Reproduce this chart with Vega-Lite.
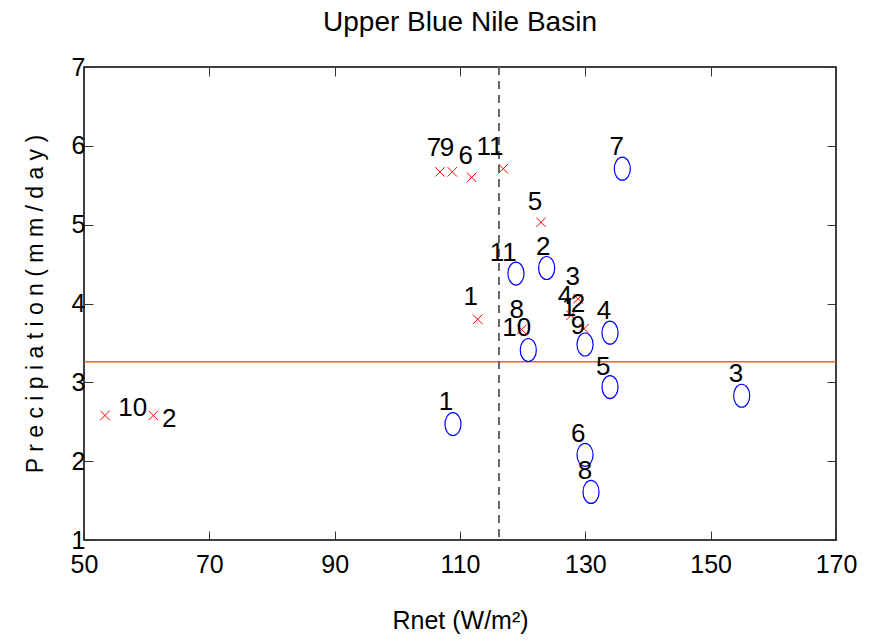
{
  "$schema": "https://vega.github.io/schema/vega-lite/v6.json",
  "width": 752,
  "height": 473,
  "autosize": {"type": "none"},
  "padding": {"left": 84, "top": 67, "right": 33, "bottom": 101},
  "background": "white",
  "title": {"text": "Upper Blue Nile Basin", "font": "Liberation Sans", "fontSize": 28, "fontWeight": "normal", "color": "#000", "offset": 18},
  "config": {
    "view": {"stroke": "#000", "strokeWidth": 1.5},
    "axis": {"domain": false, "grid": false, "labelFlush": false, "labelFont": "Liberation Sans", "labelFontSize": 25, "labelColor": "#000", "tickColor": "#333", "tickSize": -9, "tickWidth": 1, "titleFont": "Liberation Sans", "titleFontSize": 25, "titleFontWeight": "normal", "titleColor": "#000"}
  },
  "datasets": {
    "red": [
      {"rnet": 106.8, "precip": 5.67}, {"rnet": 108.77, "precip": 5.67}, {"rnet": 111.86, "precip": 5.6},
      {"rnet": 116.9, "precip": 5.71}, {"rnet": 122.92, "precip": 5.03}, {"rnet": 112.82, "precip": 3.8},
      {"rnet": 119.84, "precip": 3.67}, {"rnet": 128.83, "precip": 4.06}, {"rnet": 127.71, "precip": 3.85},
      {"rnet": 129.79, "precip": 3.68}, {"rnet": 53.35, "precip": 2.58}, {"rnet": 61.06, "precip": 2.58}
    ],
    "blue": [
      {"rnet": 108.88, "precip": 2.47}, {"rnet": 123.83, "precip": 4.45}, {"rnet": 154.95, "precip": 2.83},
      {"rnet": 133.94, "precip": 3.63}, {"rnet": 133.94, "precip": 2.94}, {"rnet": 129.95, "precip": 2.08},
      {"rnet": 135.9, "precip": 5.71}, {"rnet": 130.91, "precip": 1.61}, {"rnet": 129.95, "precip": 3.48},
      {"rnet": 120.9, "precip": 3.41}, {"rnet": 118.93, "precip": 4.38}
    ],
    "labels": [
      {"rnet": 105.85, "precip": 5.97, "t": "7"}, {"rnet": 107.93, "precip": 5.97, "t": "9"},
      {"rnet": 110.91, "precip": 5.87, "t": "6"}, {"rnet": 114.79, "precip": 5.99, "t": "11"},
      {"rnet": 121.97, "precip": 5.29, "t": "5"}, {"rnet": 135.0, "precip": 5.99, "t": "7"},
      {"rnet": 111.71, "precip": 4.08, "t": "1"}, {"rnet": 116.91, "precip": 4.64, "t": "11"},
      {"rnet": 123.29, "precip": 4.72, "t": "2"}, {"rnet": 119.05, "precip": 3.92, "t": "8"},
      {"rnet": 119.05, "precip": 3.69, "t": "10"}, {"rnet": 127.98, "precip": 4.33, "t": "3"},
      {"rnet": 126.75, "precip": 4.1, "t": "4"}, {"rnet": 127.39, "precip": 3.94, "t": "1"},
      {"rnet": 128.83, "precip": 3.99, "t": "2"}, {"rnet": 128.83, "precip": 3.71, "t": "9"},
      {"rnet": 132.98, "precip": 3.9, "t": "4"}, {"rnet": 132.87, "precip": 3.2, "t": "5"},
      {"rnet": 154.04, "precip": 3.11, "t": "3"}, {"rnet": 128.88, "precip": 2.35, "t": "6"},
      {"rnet": 129.95, "precip": 1.87, "t": "8"}, {"rnet": 107.77, "precip": 2.75, "t": "1"},
      {"rnet": 57.77, "precip": 2.67, "t": "10"}, {"rnet": 63.61, "precip": 2.54, "t": "2"}
    ],
    "hline": [{"precip": 3.26}],
    "vline": [{"rnet": 116.22}]
  },
  "resolve": {"axis": {"x": "independent", "y": "independent"}},
  "layer": [
    {
      "data": {"name": "hline"},
      "mark": {"type": "rule", "color": "#e8603c", "strokeWidth": 1.5},
      "encoding": {
        "y": {"field": "precip", "type": "quantitative", "scale": {"domain": [1, 7], "nice": false, "zero": false}, "axis": null}
      }
    },
    {
      "data": {"name": "vline"},
      "mark": {"type": "rule", "color": "#666666", "strokeWidth": 2, "strokeDash": [8, 6]},
      "encoding": {
        "x": {"field": "rnet", "type": "quantitative", "scale": {"domain": [50, 170], "nice": false, "zero": false}, "axis": null}
      }
    },
    {
      "data": {"name": "red"},
      "mark": {"type": "point", "shape": "M -1,-1 L 1,1 M -1,1 L 1,-1", "filled": false, "stroke": "#ff0000", "strokeWidth": 1, "size": 90, "opacity": 1},
      "encoding": {
        "x": {"field": "rnet", "type": "quantitative", "scale": {"domain": [50, 170], "nice": false, "zero": false},
              "axis": {"orient": "bottom", "values": [50, 70, 90, 110, 130, 150, 170], "title": "Rnet (W/m²)", "labelPadding": 21, "titlePadding": 31}},
        "y": {"field": "precip", "type": "quantitative", "scale": {"domain": [1, 7], "nice": false, "zero": false},
              "axis": {"orient": "left", "values": [1, 2, 3, 4, 5, 6, 7], "title": "P r e c i p i a t i o n  ( m m / d a y )", "titleFontSize": 23, "labelPadding": 8, "titlePadding": 24}}
      }
    },
    {
      "data": {"name": "blue"},
      "mark": {"type": "point", "shape": "M -0.7,0 A 0.7,1 0 1,1 0.7,0 A 0.7,1 0 1,1 -0.7,0 Z", "filled": false, "stroke": "#0000ff", "strokeWidth": 1.2, "size": 529, "opacity": 1},
      "encoding": {
        "x": {"field": "rnet", "type": "quantitative", "scale": {"domain": [50, 170], "nice": false, "zero": false},
              "axis": {"orient": "top", "values": [50, 70, 90, 110, 130, 150, 170], "labels": false, "title": null}},
        "y": {"field": "precip", "type": "quantitative", "scale": {"domain": [1, 7], "nice": false, "zero": false},
              "axis": {"orient": "right", "values": [1, 2, 3, 4, 5, 6, 7], "labels": false, "title": null}}
      }
    },
    {
      "data": {"name": "labels"},
      "mark": {"type": "text", "font": "Liberation Sans", "fontSize": 26, "color": "#000", "align": "center", "baseline": "middle"},
      "encoding": {
        "x": {"field": "rnet", "type": "quantitative", "scale": {"domain": [50, 170], "nice": false, "zero": false}, "axis": null},
        "y": {"field": "precip", "type": "quantitative", "scale": {"domain": [1, 7], "nice": false, "zero": false}, "axis": null},
        "text": {"field": "t"}
      }
    }
  ]
}
